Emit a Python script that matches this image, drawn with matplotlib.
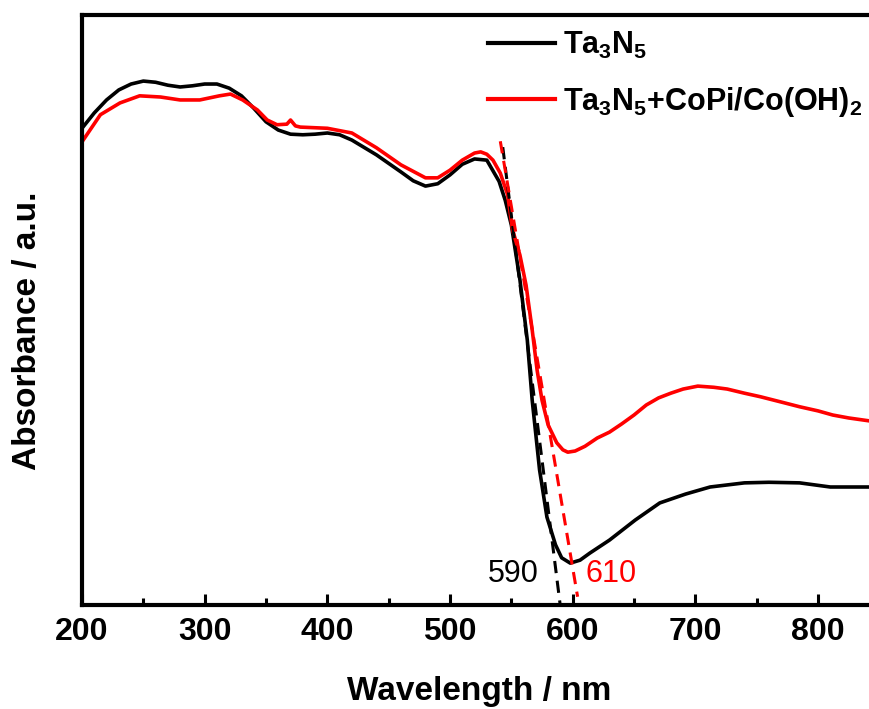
import numpy as np
import matplotlib
matplotlib.use('Agg')
import matplotlib.pyplot as plt
from matplotlib.ticker import MultipleLocator

plt.rcParams['font.family'] = ['Liberation Sans', 'DejaVu Sans']
plt.rcParams['mathtext.fontset'] = 'custom'
plt.rcParams['mathtext.rm'] = 'Liberation Sans:bold'
plt.rcParams['mathtext.it'] = 'Liberation Sans:bold'
plt.rcParams['mathtext.bf'] = 'Liberation Sans:bold'
plt.rcParams['mathtext.default'] = 'rm'

# ---- data (arbitrary absorbance units) ----
wl_ta3n5 = [200, 210, 220, 230, 240, 250, 260, 270, 280, 290, 300, 310, 320, 330, 340,
            350, 360, 370, 380, 390, 400, 410, 420, 440, 460, 470, 480, 490, 500, 510,
            520, 530, 540, 545, 550, 557, 563, 567, 573, 579, 586, 591, 598, 606, 614,
            630, 651, 671, 692, 712, 740, 760, 785, 810, 842]
abs_ta3n5 = [0.808, 0.834, 0.856, 0.873, 0.883, 0.888, 0.886, 0.881, 0.878, 0.880, 0.883,
             0.883, 0.876, 0.863, 0.842, 0.819, 0.805, 0.798, 0.797, 0.798, 0.800, 0.797,
             0.788, 0.763, 0.734, 0.719, 0.710, 0.714, 0.729, 0.747, 0.756, 0.754, 0.718,
             0.686, 0.644, 0.551, 0.449, 0.347, 0.229, 0.149, 0.102, 0.080, 0.071, 0.076,
             0.088, 0.110, 0.144, 0.173, 0.188, 0.200, 0.207, 0.208, 0.207, 0.200, 0.200]

wl_copi = [200, 215, 231, 247, 264, 280, 296, 312, 321, 331, 343, 351, 359, 367, 370, 374,
           378, 400, 420, 440, 460, 480, 490, 500, 510, 520, 525, 530, 535, 541, 547, 551,
           557, 562, 567, 571, 575, 580, 587, 592, 596, 602, 610, 620, 630, 640, 650, 660,
           670, 680, 690, 702, 715, 726, 740, 753, 770, 785, 800, 812, 825, 842]
abs_copi = [0.785, 0.831, 0.851, 0.863, 0.861, 0.856, 0.856, 0.863, 0.866, 0.856, 0.839,
            0.822, 0.814, 0.815, 0.822, 0.812, 0.810, 0.808, 0.800, 0.775, 0.746, 0.724,
            0.724, 0.737, 0.754, 0.766, 0.768, 0.764, 0.754, 0.732, 0.695, 0.636, 0.593,
            0.542, 0.466, 0.398, 0.347, 0.305, 0.275, 0.263, 0.259, 0.261, 0.269, 0.283,
            0.293, 0.307, 0.322, 0.339, 0.351, 0.359, 0.366, 0.371, 0.369, 0.366, 0.359,
            0.353, 0.344, 0.336, 0.329, 0.322, 0.317, 0.312]

# tangent lines used for the band-edge estimate
tan_ta3n5_wl = [543, 590]
tan_ta3n5_abs = [0.776, -0.003]
tan_copi_wl = [541, 604]
tan_copi_abs = [0.786, 0.014]

edge_labels = ['590', '610']
xticks = [200, 300, 400, 500, 600, 700, 800]

fig = plt.figure(figsize=(8.69, 7.09), dpi=100)
ax = fig.add_axes([82/869, 104/709, 858.7/869, 590/709])

lw = 2.6
ax.plot(wl_ta3n5, abs_ta3n5, color='black', lw=lw, label=r'Ta$_3$N$_5$')
ax.plot(wl_copi, abs_copi, color='#ff0000', lw=lw, label=r'Ta$_3$N$_5$+CoPi/Co(OH)$_2$')
ax.plot(tan_ta3n5_wl, tan_ta3n5_abs, color='black', lw=2.2, ls=(0, (4, 2.5)), clip_on=False)
ax.plot(tan_copi_wl, tan_copi_abs, color='#ff0000', lw=2.2, ls=(0, (4, 2.5)), clip_on=False)

ax.text(551.5, 0.052, edge_labels[0], color='black', fontsize=22, ha='center', va='center')
ax.text(631, 0.052, edge_labels[1], color='#ff0000', fontsize=22, ha='center', va='center')

ax.set_xlim(200, 900)
ax.set_ylim(0, 1)
ax.set_xticks(xticks)
ax.xaxis.set_minor_locator(MultipleLocator(50))
ax.tick_params(axis='x', which='major', direction='in', length=8, width=2.2,
               labelsize=23, pad=9)
ax.tick_params(axis='x', which='minor', direction='in', length=5, width=2.2)
ax.set_yticks([])
for lab in ax.get_xticklabels():
    lab.set_fontweight('bold')
for sp in ax.spines.values():
    sp.set_linewidth(3)

ax.set_xlabel('Wavelength / nm', fontsize=24, fontweight='bold')
ax.set_ylabel('Absorbance / a.u.', fontsize=24, fontweight='bold')
ax.xaxis.set_label_coords(0.463, -0.12)
ax.yaxis.set_label_coords(-0.045, 0.464)

leg = ax.legend(loc='upper left', bbox_to_anchor=(488/869, 1 - 30/709),
                bbox_transform=fig.transFigure, frameon=False,
                prop={'size': 22, 'weight': 'bold'},
                handlelength=2.2, handletextpad=0.25, labelspacing=0.77,
                borderpad=0, borderaxespad=0)
for line in leg.get_lines():
    line.set_linewidth(3)

fig.savefig('out.png', dpi=100)
